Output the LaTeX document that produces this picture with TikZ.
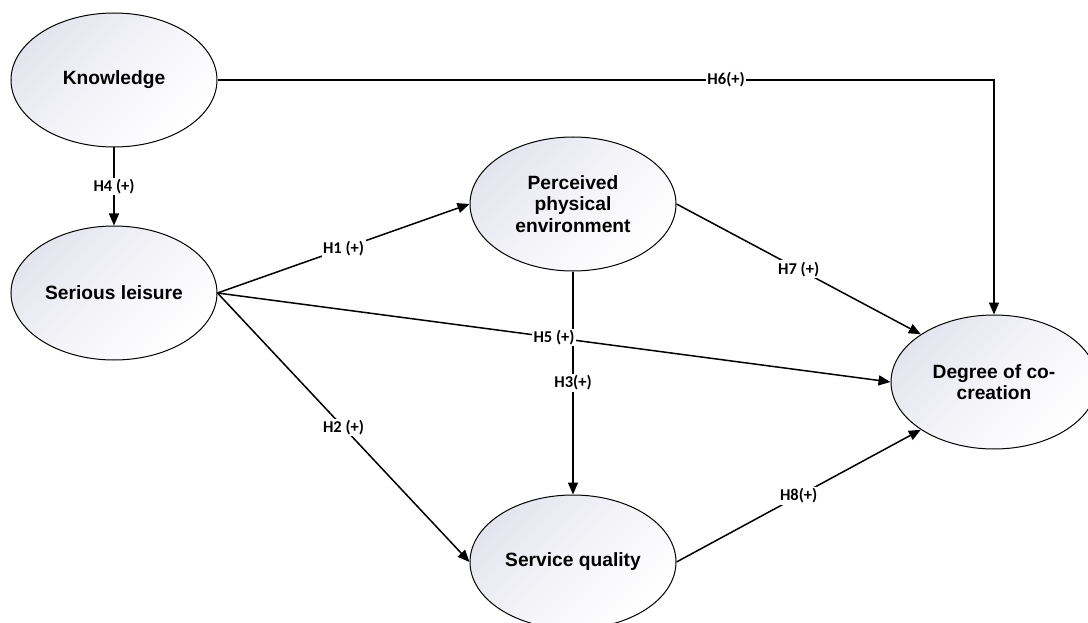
\documentclass[tikz,border=0pt]{standalone}
\usepackage{fontspec}
\setmainfont{Liberation Sans}
\newfontfamily\hypfont{Carlito}
\usetikzlibrary{shapes.geometric,arrows.meta}
\definecolor{ellshade}{HTML}{E4E4EF}
\tikzstyle{cvar}=[ellipse, draw, line width=1pt, minimum width=206pt, minimum height=134pt, inner sep=0pt, align=center, top color=ellshade, bottom color=white, middle color=ellshade!40, shading angle=45, font=\bfseries\fontsize{19.2}{21.5}\selectfont]
\tikzstyle{hyp}=[fill=white, inner sep=1.5pt, font=\hypfont\bfseries\fontsize{16.5}{18}\selectfont]
\tikzstyle{conn}=[->, line width=1.5pt]

\begin{document}
\begin{tikzpicture}[x=1pt, y=-1pt, >={Triangle[length=12pt,width=10pt]}]
\useasboundingbox (0,0) rectangle (1088,623);

\node[cvar] (kn) at (114,80) {Knowledge};
\node[cvar] (sl) at (114,293) {Serious leisure};
\node[cvar] (ppe) at (573,204) {Perceived\\physical\\environment};
\node[cvar] (sq) at (573,562) {Service quality};
\node[cvar] (dc) at (994,382) {Degree of co-\\creation};

\coordinate (c6) at (kn -| dc);

\draw[conn] (kn.south) -- (sl.north) node[hyp, midway] {H4 (+)};
\draw[conn] (sl.east) -- (ppe.west) node[hyp, midway] {H1 (+)};
\draw[conn] (sl.east) -- (sq.west) node[hyp, midway] {H2 (+)};
\draw[conn] (ppe.south) -- (sq.north) node[hyp, midway] {H3(+)};
\draw[conn] (sl.east) -- (dc.west) node[hyp, midway] {H5 (+)};
\draw[conn] (kn.east) -- (c6) node[hyp, pos=0.655] {H6(+)} -- (dc.north);
\draw[conn] (ppe.east) -- (dc.north west) node[hyp, midway] {H7 (+)};
\draw[conn] (sq.east) -- (dc.south west) node[hyp, midway] {H8(+)};

\end{tikzpicture}
\end{document}
